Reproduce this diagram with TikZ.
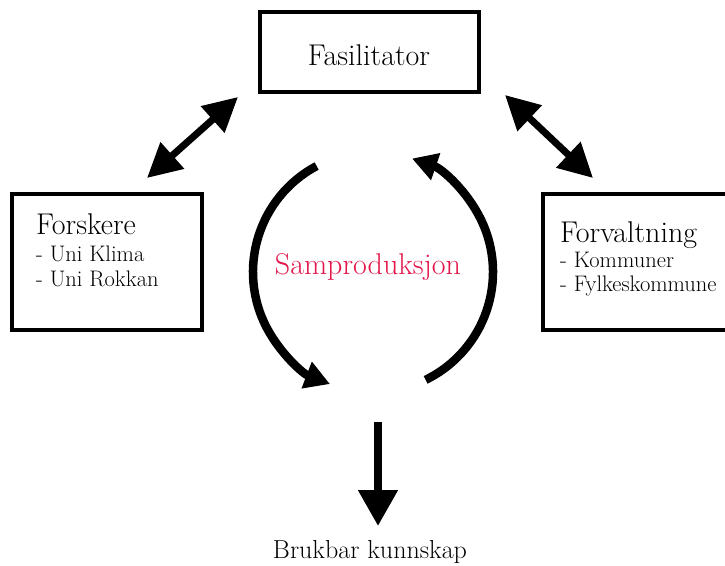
\documentclass[tikz,border=0pt]{standalone}
\usepackage{fontspec}
\usepackage{xcolor}
\usepackage{tikz}
\usetikzlibrary{arrows.meta}
\definecolor{ink}{HTML}{000000}
\definecolor{samred}{HTML}{E3174C}
\tikzset{
  boxFrame/.style={draw=ink, line width=3.5pt, minimum width=#1, inner sep=0pt},
  boxTitle/.style={text=ink, font=\fontsize{30}{34}\selectfont, inner sep=0pt},
  boxItem/.style={text=ink, font=\fontsize{22.5}{26}\selectfont, inner sep=0pt},
  linkArrow/.style={draw=ink, line width=7pt, {Triangle[length=34pt,width=34pt]}-{Triangle[length=34pt,width=34pt]}},
  cycleArrow/.style={draw=ink, line width=8.5pt, -{Triangle[length=25pt,width=27pt]}},
  outArrow/.style={draw=ink, line width=8pt, -{Triangle[length=36pt,width=38pt]}}
}

\begin{document}
\begin{tikzpicture}[x=1pt,y=1pt]
  \useasboundingbox (0,0) rectangle (725,565);

  % boxes
  \node[boxFrame=219pt, minimum height=80pt] (fas) at (369.5,513) {};
  \node[boxFrame=190pt, minimum height=136pt] (forsk) at (107,303) {};
  \node[boxFrame=200pt, minimum height=136pt] (forv) at (643,303) {};

  \node[boxTitle, anchor=base] (fasText) at (369,499) {Fasilitator};

  \node[boxTitle, anchor=base west] (forskTitle) at (36,330) {Forskere};
  \node[boxItem, anchor=base west] (forskA) at (36,303) {- Uni Klima};
  \node[boxItem, anchor=base west] (forskB) at (36,278) {- Uni Rokkan};

  \node[boxTitle, anchor=base west] (forvTitle) at (560,322) {Forvaltning};
  \node[boxItem, anchor=base west] (forvA) at (560,297) {- Kommuner};
  \node[boxItem, anchor=base west] (forvB) at (560,273) {- Fylkeskommune};

  % centre
  \coordinate (mid) at (373,293);
  \node[text=samred, font=\fontsize{30}{34}\selectfont] (samp) at (368,298) {Samproduksjon};
  \draw[cycleArrow] (mid) ++(118:120) arc (118:249:120);
  \draw[cycleArrow] (mid) ++(-64:120) arc (-64:71:120);

  % links to the fasilitator
  \coordinate (fasW) at (238,468);
  \coordinate (forskN) at (147,387);
  \coordinate (fasE) at (505,470);
  \coordinate (forvN) at (593,387);
  \draw[linkArrow] (forskN) -- (fasW);
  \draw[linkArrow] (fasE) -- (forvN);

  % result
  \node[text=ink, font=\fontsize{26}{30}\selectfont, anchor=base] (kunn) at (370,7) {Brukbar kunnskap};
  \coordinate (outTop) at (378,143);
  \coordinate (outTip) at (378,39);
  \draw[outArrow] (outTop) -- (outTip);
\end{tikzpicture}
\end{document}
